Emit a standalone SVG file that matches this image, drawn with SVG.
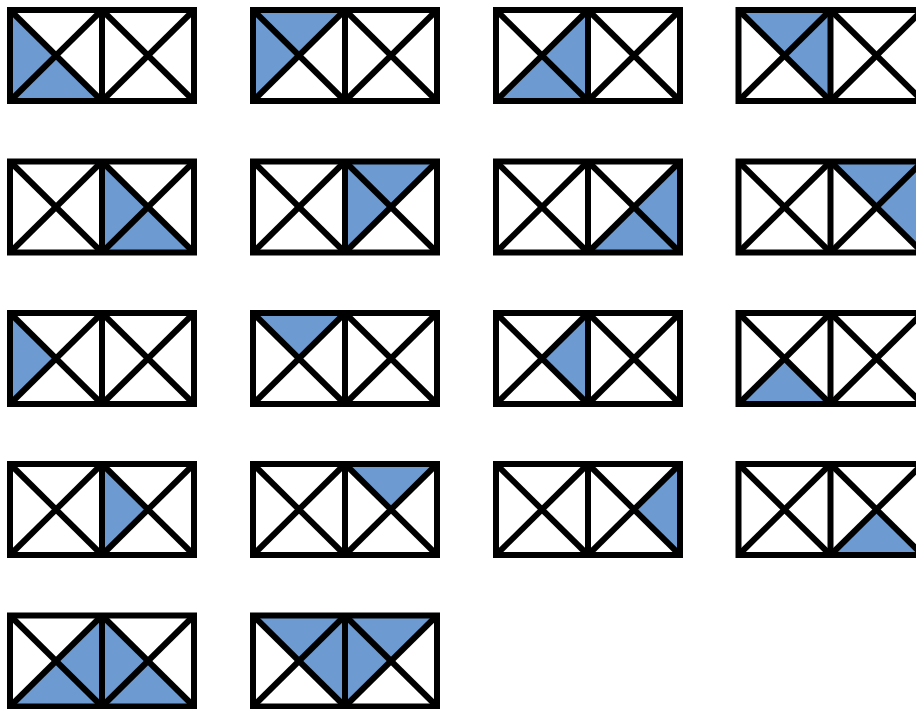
<svg xmlns="http://www.w3.org/2000/svg" xmlns:xlink="http://www.w3.org/1999/xlink" width="916" height="709" viewBox="0 0 916 709">
  <style>
    .f { fill: #6d9bd1; stroke: none; }
    .ln { fill: none; stroke: #000; stroke-width: 6; stroke-linejoin: miter; }
  </style>
  <defs>
    <polygon id="aT" points="0,0 92,0 46,45.5"/>
    <polygon id="aR" points="92,0 92,91 46,45.5"/>
    <polygon id="aB" points="0,91 92,91 46,45.5"/>
    <polygon id="aL" points="0,0 0,91 46,45.5"/>
    <polygon id="bT" points="92,0 184,0 138,45.5"/>
    <polygon id="bR" points="184,0 184,91 138,45.5"/>
    <polygon id="bB" points="92,91 184,91 138,45.5"/>
    <polygon id="bL" points="92,0 92,91 138,45.5"/>
    <g id="frame" class="ln">
      <rect x="0" y="0" width="184" height="91"/>
      <line x1="92" y1="0" x2="92" y2="91"/>
      <line x1="0" y1="0" x2="92" y2="91"/>
      <line x1="92" y1="0" x2="0" y2="91"/>
      <line x1="92" y1="0" x2="184" y2="91"/>
      <line x1="184" y1="0" x2="92" y2="91"/>
    </g>
  </defs>
  <rect width="916" height="709" fill="#fff"/>

  <!-- Row 1 -->
  <g id="tile-1-1" transform="translate(10,10)">
    <use href="#aL" class="f"/><use href="#aB" class="f"/><use href="#frame"/>
  </g>
  <g id="tile-1-2" transform="translate(253,10)">
    <use href="#aL" class="f"/><use href="#aT" class="f"/><use href="#frame"/>
  </g>
  <g id="tile-1-3" transform="translate(496,10)">
    <use href="#aR" class="f"/><use href="#aB" class="f"/><use href="#frame"/>
  </g>
  <g id="tile-1-4" transform="translate(738.5,10)">
    <use href="#aT" class="f"/><use href="#aR" class="f"/><use href="#frame"/>
  </g>

  <!-- Row 2 -->
  <g id="tile-2-1" transform="translate(10,161.5)">
    <use href="#bL" class="f"/><use href="#bB" class="f"/><use href="#frame"/>
  </g>
  <g id="tile-2-2" transform="translate(253,161.5)">
    <use href="#bL" class="f"/><use href="#bT" class="f"/><use href="#frame"/>
  </g>
  <g id="tile-2-3" transform="translate(496,161.5)">
    <use href="#bR" class="f"/><use href="#bB" class="f"/><use href="#frame"/>
  </g>
  <g id="tile-2-4" transform="translate(738.5,161.5)">
    <use href="#bT" class="f"/><use href="#bR" class="f"/><use href="#frame"/>
  </g>

  <!-- Row 3 -->
  <g id="tile-3-1" transform="translate(10,313)">
    <use href="#aL" class="f"/><use href="#frame"/>
  </g>
  <g id="tile-3-2" transform="translate(253,313)">
    <use href="#aT" class="f"/><use href="#frame"/>
  </g>
  <g id="tile-3-3" transform="translate(496,313)">
    <use href="#aR" class="f"/><use href="#frame"/>
  </g>
  <g id="tile-3-4" transform="translate(738.5,313)">
    <use href="#aB" class="f"/><use href="#frame"/>
  </g>

  <!-- Row 4 -->
  <g id="tile-4-1" transform="translate(10,464)">
    <use href="#bL" class="f"/><use href="#frame"/>
  </g>
  <g id="tile-4-2" transform="translate(253,464)">
    <use href="#bT" class="f"/><use href="#frame"/>
  </g>
  <g id="tile-4-3" transform="translate(496,464)">
    <use href="#bR" class="f"/><use href="#frame"/>
  </g>
  <g id="tile-4-4" transform="translate(738.5,464)">
    <use href="#bB" class="f"/><use href="#frame"/>
  </g>

  <!-- Row 5 -->
  <g id="tile-5-1" transform="translate(10,615.5)">
    <use href="#aR" class="f"/><use href="#aB" class="f"/><use href="#bL" class="f"/><use href="#bB" class="f"/><use href="#frame"/>
  </g>
  <g id="tile-5-2" transform="translate(253,615.5)">
    <use href="#aT" class="f"/><use href="#aR" class="f"/><use href="#bL" class="f"/><use href="#bT" class="f"/><use href="#frame"/>
  </g>

  <g id="connectors"/>
</svg>
